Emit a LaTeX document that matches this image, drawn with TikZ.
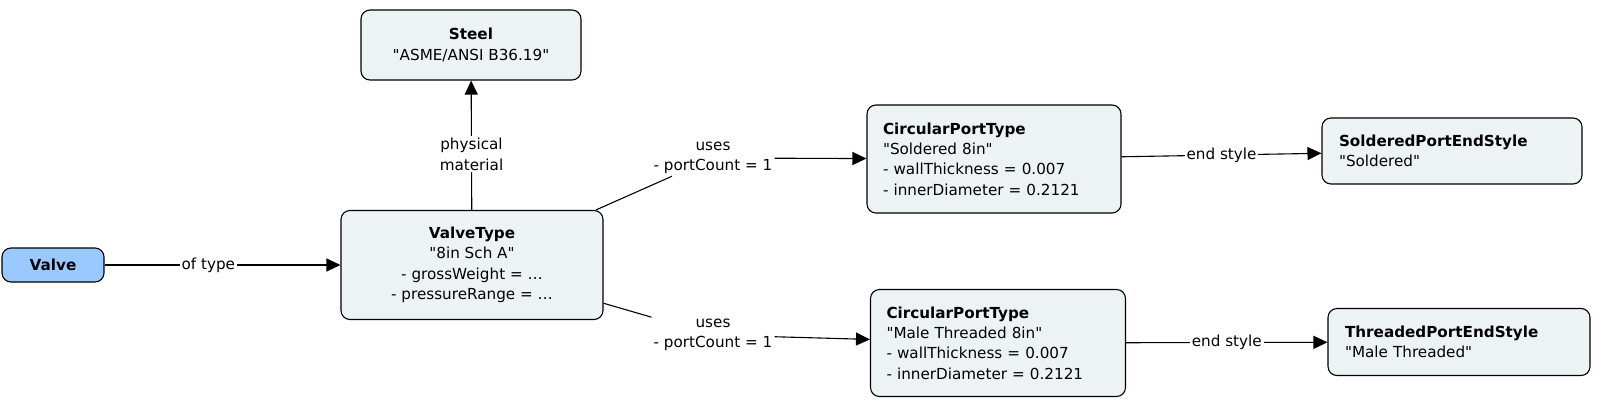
\documentclass[tikz,border=0pt]{standalone}
\usepackage{fontspec}
\setmainfont{DejaVu Sans}[Ligatures=TeXOff]
\usetikzlibrary{arrows.meta}

\definecolor{boxfill}{HTML}{EDF3F5}
\definecolor{valvefill}{HTML}{99C9FF}

\tikzset{
    every node/.style={font=\fontsize{15.2pt}{20.4pt}\selectfont},
    box/.style={draw, rounded corners=9pt, line width=1.1pt, fill=boxfill, align=center},
    lbox/.style={box, align=left, inner xsep=16pt, text width=#1},
    lbl/.style={fill=white, inner sep=2pt, align=center},
    arr/.style={-{Triangle[length=14pt, width=13pt]}, line width=1.1pt},
    link/.style={line width=1.1pt}
}

\begin{document}
\begin{tikzpicture}[x=1pt, y=-1pt]
    \useasboundingbox (0,0) rectangle (1603,402);

    % Nodes
    \node[box, fill=valvefill, minimum width=102pt, minimum height=34pt] (valve) at (53,265) {\textbf{Valve}};
    \node[box, minimum width=262pt, minimum height=109pt] (vtype) at (472,265)
        {\textbf{ValveType}\\"8in Sch A"\\- grossWeight = \ldots\\- pressureRange = \ldots};
    \node[box, minimum width=220pt, minimum height=70pt] (steel) at (471,45)
        {\textbf{Steel}\\"ASME/ANSI B36.19"};
    \node[lbox=222pt, minimum height=108pt] (cpt1) at (994,159)
        {\textbf{CircularPortType}\\"Soldered 8in"\\- wallThickness = 0.007\\- innerDiameter = 0.2121};
    \node[lbox=223pt, minimum height=107pt] (cpt2) at (998,343)
        {\textbf{CircularPortType}\\"Male Threaded 8in"\\- wallThickness = 0.007\\- innerDiameter = 0.2121};
    \node[lbox=226pt, inner xsep=17pt, minimum height=66pt] (spes) at (1452,151)
        {\textbf{SolderedPortEndStyle}\\"Soldered"};
    \node[lbox=228pt, inner xsep=17pt, minimum height=67pt] (tpes) at (1459,342)
        {\textbf{ThreadedPortEndStyle}\\"Male Threaded"};

    % Edge labels
    \node[lbl] (uses1) at (713,158) {uses\\- portCount = 1};
    \node[lbl] (uses2) at (713,335) {uses\\- portCount = 1};

    % Edges
    \draw[arr] (valve) -- node[lbl, pos=0.44] {of type} (vtype);
    \draw[arr] (vtype) -- node[lbl, pos=0.43] {physical\\material} (steel);
    \draw[link] (vtype) -- (uses1);
    \draw[arr] (uses1) -- (cpt1);
    \draw[link] (vtype) -- (uses2);
    \draw[arr] (uses2) -- (cpt2);
    \draw[arr] (cpt1) -- node[lbl] {end style} (spes);
    \draw[arr] (cpt2) -- node[lbl] {end style} (tpes);
\end{tikzpicture}
\end{document}
